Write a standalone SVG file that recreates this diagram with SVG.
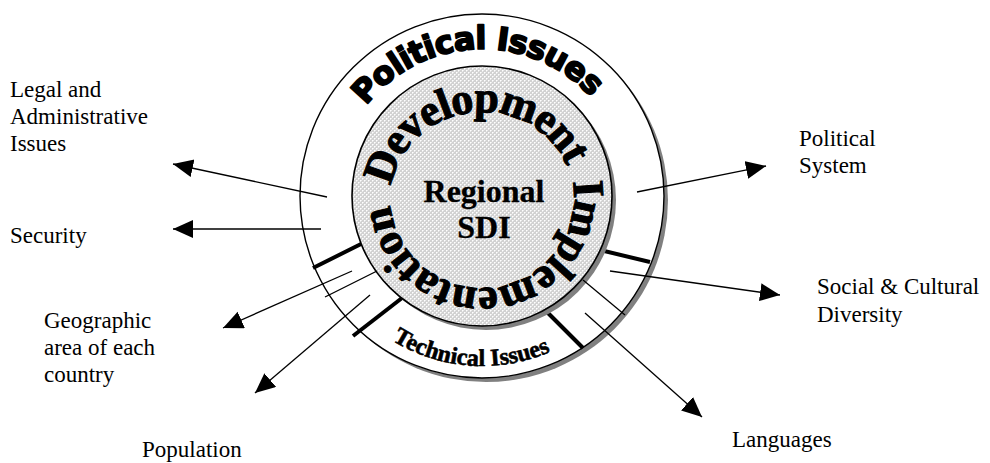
<svg xmlns="http://www.w3.org/2000/svg" width="990" height="463" viewBox="0 0 990 463">
<defs>
<pattern id="dots" width="4" height="4" patternUnits="userSpaceOnUse">
<rect width="4" height="4" fill="#d2d2d2"/>
<rect x="0" y="0" width="1" height="1" fill="#ffffff"/>
<rect x="2" y="2" width="1" height="1" fill="#ffffff"/>
<rect x="1" y="0" width="1" height="1" fill="#ececec"/>
<rect x="3" y="2" width="1" height="1" fill="#ececec"/>
<rect x="0" y="1" width="1" height="1" fill="#ececec"/>
<rect x="2" y="3" width="1" height="1" fill="#ececec"/>
</pattern>
<marker id="ah" markerUnits="userSpaceOnUse" markerWidth="22" markerHeight="20" refX="20" refY="9" orient="auto">
<path d="M0,0 L20,9 L0,18 Z" fill="#000"/>
</marker>
<path id="pPol" d="M413.7,326.2 A147,147 0 1 1 560.6,320.3"/>
<path id="pDev" d="M446.1,281 A92,88 0 1 1 537.4,270.3"/>
<path id="pImp" d="M517.2,111 A92,92 0 1 1 426,123"/>
<path id="pTec" d="M312.1,189.3 A170,170 0 0 0 651.9,202.7"/>
</defs>
<style>
.lbl{font-family:"Liberation Serif","Times New Roman",serif;font-size:23px;fill:#000}
.thin{stroke:#000;stroke-width:1.3;fill:none}
.arr{stroke:#000;stroke-width:1.3;fill:none;marker-end:url(#ah)}
.thick{stroke:#000;stroke-width:4;fill:none}
.ring{font-family:"Liberation Serif","Times New Roman",serif;font-weight:bold;fill:#000;stroke:#000}
.pol{font-family:"DejaVu Sans","Liberation Sans",sans-serif;font-weight:bold;font-size:32px;fill:#000;stroke:#000;stroke-width:1.8;stroke-linejoin:round}
</style>
<g id="outer-ring">
<circle cx="486" cy="200" r="182" fill="#808080"/>
<circle cx="482" cy="196" r="182" fill="#fff" stroke="#000" stroke-width="1.4"/>
<text class="pol" letter-spacing="-0.9"><textPath href="#pPol" startOffset="50%" text-anchor="middle">Political Issues</textPath></text>
<text class="ring" font-size="24" stroke-width="0.6"><textPath href="#pTec" startOffset="49%" text-anchor="middle">Technical Issues</textPath></text>
</g>
<g id="dividers">
<line class="thick" x1="313" y1="268" x2="363" y2="243"/>
<line class="thick" x1="353" y1="336" x2="402" y2="298"/>
<line class="thick" x1="547" y1="312" x2="583" y2="348"/>
<line class="thick" x1="600" y1="250" x2="650" y2="262"/>
</g>
<g id="regional-sdi">
<circle cx="486" cy="200" r="130" fill="#808080"/>
<circle cx="482" cy="196" r="130" fill="url(#dots)" stroke="#000" stroke-width="1.6"/>
<text class="ring" font-size="44" stroke-width="1.1" letter-spacing="-1.3"><textPath href="#pDev" startOffset="50%" text-anchor="middle">Development</textPath></text>
<text class="ring" font-size="44" stroke-width="1.1" letter-spacing="-0.5"><textPath href="#pImp" startOffset="50%" text-anchor="middle">Implementation</textPath></text>
<text class="ring" font-size="32" stroke-width="0.3" x="484" y="202" text-anchor="middle">Regional</text>
<text class="ring" font-size="32" stroke-width="0.3" x="484" y="238" text-anchor="middle">SDI</text>
</g>
<g id="connectors">
<line class="arr" x1="327" y1="197" x2="173" y2="164"/>
<line class="arr" x1="321" y1="229" x2="173" y2="229"/>
<line class="arr" x1="352" y1="271" x2="223" y2="328"/>
<line class="arr" x1="370" y1="295" x2="255" y2="393"/>
<line class="arr" x1="637" y1="192" x2="766" y2="166"/>
<line class="arr" x1="610" y1="271" x2="780" y2="295"/>
<line class="arr" x1="585" y1="313" x2="702" y2="417"/>
<line class="thin" x1="325" y1="297" x2="377" y2="271"/>
<line class="thin" x1="583" y1="280" x2="625" y2="315"/>
</g>
<g id="legal"><text class="lbl"><tspan x="10" y="97">Legal and</tspan><tspan x="10" y="124">Administrative</tspan><tspan x="10" y="151">Issues</tspan></text></g>
<g id="security"><text class="lbl" x="10" y="243">Security</text></g>
<g id="geographic"><text class="lbl"><tspan x="44" y="328">Geographic</tspan><tspan x="44" y="355">area of each</tspan><tspan x="44" y="382">country</tspan></text></g>
<g id="population"><text class="lbl" x="142" y="457">Population</text></g>
<g id="political-system"><text class="lbl"><tspan x="799" y="146">Political</tspan><tspan x="799" y="173">System</tspan></text></g>
<g id="social"><text class="lbl"><tspan x="817" y="294">Social &amp; Cultural</tspan><tspan x="817" y="322">Diversity</tspan></text></g>
<g id="languages"><text class="lbl" x="732" y="447">Languages</text></g>
</svg>
